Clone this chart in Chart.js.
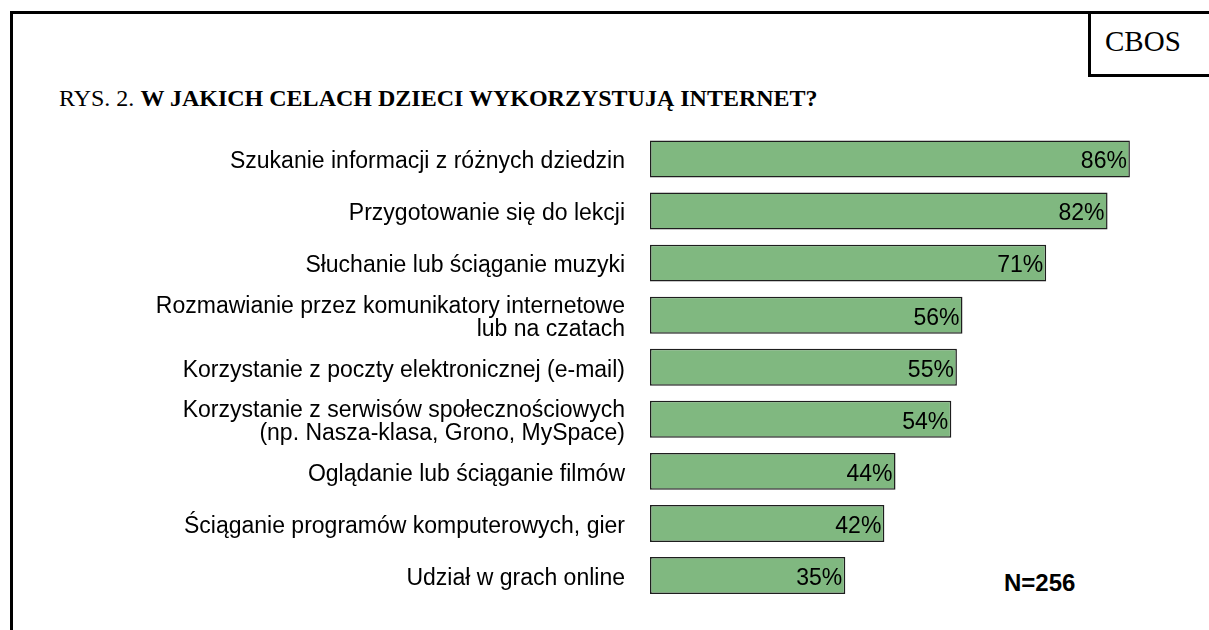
<!DOCTYPE html>
<html>
<head>
<meta charset="utf-8">
<script src="https://cdn.jsdelivr.net/npm/chart.js@4.4.1/dist/chart.umd.min.js"></script>
<style>
  html, body { margin: 0; padding: 0; background: #fff; }
  #wrap { position: relative; width: 1209px; height: 630px; overflow: hidden; }
  #frame { position: absolute; left: 10px; top: 11px; width: 1300px; height: 700px;
           border-left: 3px solid #000; border-top: 3px solid #000; }
  #cbos { position: absolute; left: 1088px; top: 11px; width: 200px; height: 63px;
          border-left: 3px solid #000; border-bottom: 3px solid #000; }
  #cbos span { position: absolute; left: 14px; top: 14px; font: 29px "Liberation Serif", "Times New Roman", serif; }
  #title { position: absolute; left: 59px; top: 85px; font: 24px "Liberation Serif", "Times New Roman", serif; white-space: nowrap; }
  #title b { font-weight: bold; }
  #n { position: absolute; left: 1004px; top: 569px; font: bold 24px "Liberation Sans", Arial, sans-serif; }
  canvas { position: absolute; left: 0; top: 0; }
</style>
</head>
<body>
<div id="wrap">
  <div id="frame"></div>
  <div id="cbos"><span>CBOS</span></div>
  <div id="title">RYS. 2. <b>W JAKICH CELACH DZIECI WYKORZYSTUJĄ INTERNET?</b></div>
  <div id="n">N=256</div>
  <canvas id="chart" width="1209" height="630"></canvas>
</div>
<script>
// data
const categories = [
  'Szukanie informacji z różnych dziedzin',
  'Przygotowanie się do lekcji',
  'Słuchanie lub ściąganie muzyki',
  ['Rozmawianie przez komunikatory internetowe', 'lub na czatach'],
  'Korzystanie z poczty elektronicznej (e-mail)',
  ['Korzystanie z serwisów społecznościowych', '(np. Nasza-klasa, Grono, MySpace)'],
  'Oglądanie lub ściąganie filmów',
  'Ściąganie programów komputerowych, gier',
  'Udział w grach online'
];
const values = [86, 82, 71, 56, 55, 54, 44, 42, 35];

const FONT = '"Liberation Sans", Arial, sans-serif';

// draws "86%" etc. inside the bar end
const valueLabels = {
  id: 'valueLabels',
  afterDatasetsDraw(chart) {
    const ctx = chart.ctx;
    const meta = chart.getDatasetMeta(0);
    ctx.save();
    ctx.font = '23px ' + FONT;
    ctx.fillStyle = '#000';
    ctx.textAlign = 'right';
    ctx.textBaseline = 'middle';
    meta.data.forEach((bar, i) => {
      ctx.fillText(values[i] + '%', bar.x - 3, bar.y + 3);
    });
    ctx.restore();
  }
};

new Chart(document.getElementById('chart'), {
  type: 'bar',
  plugins: [valueLabels],
  data: {
    labels: categories,
    datasets: [{
      data: values,
      backgroundColor: '#80b880',
      borderColor: '#1e1e1e',
      borderWidth: 1.5,
      borderSkipped: false,
      barPercentage: 0.71,
      categoryPercentage: 1
    }]
  },
  options: {
    indexAxis: 'y',
    responsive: false,
    animation: false,
    layout: { padding: { top: 133, bottom: 26, left: 0, right: 1 } },
    scales: {
      x: { display: false, min: 0, max: 100 },
      y: {
        grid: { display: false },
        border: { display: false },
        afterFit(scale) { scale.width = 650; },
        ticks: {
          autoSkip: false,
          padding: 17,
          labelOffset: 3,
          color: '#000',
          font: { family: FONT, size: 23, lineHeight: 1.0 }
        }
      }
    },
    plugins: {
      legend: { display: false },
      tooltip: { enabled: false }
    }
  }
});
</script>
</body>
</html>
